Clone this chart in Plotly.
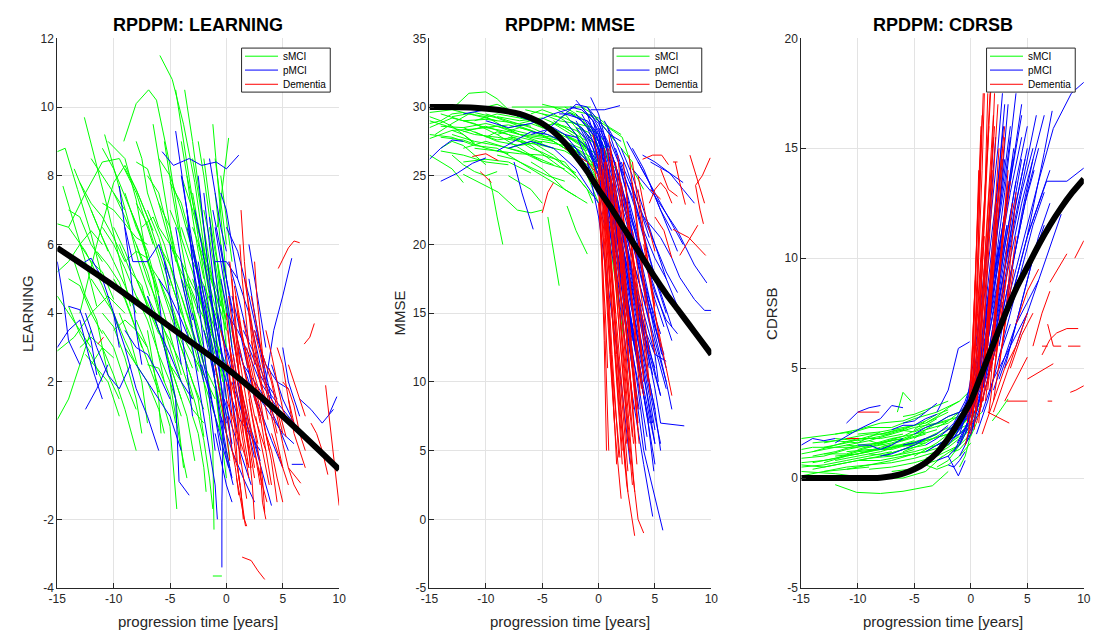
import plotly.graph_objects as go

# ---------------- data ----------------
# each trajectory: flat list x0,y0,x1,y1,...  (x = progression time [years])
TICKS_X = [-15, -10, -5, 0, 5, 10]
GROUPS = ["sMCI", "pMCI", "Dementia"]
PANEL_TITLES = ["RPDPM: LEARNING", "RPDPM: MMSE", "RPDPM: CDRSB"]
Y_LABELS = ["LEARNING", "MMSE", "CDRSB"]

LEARN_SMCI = [
    [-5.9,11.5,-4.8,10.8,-3.8,9.5,-2.8,7.8,-1.8,5.5],
    [-9.1,9.0,-8.0,10.1,-6.9,10.5,-6.2,10.2,-5.0,8.3,-4.0,6.2],
    [-12.6,9.7,-11.5,8.3,-10.5,7.0,-9.5,5.6,-8.5,4.2],
    [-15,8.7,-14.3,8.8,-13.2,7.6,-12.0,6.3,-11,5.0],
    [-4.5,10.5,-3.8,9.0,-3.0,7.2,-2.0,5.2,-1.0,3.0],
    [-3.7,10.5,-3.0,9.0,-2.2,7.0,-1.5,5.0],
    [-1.2,9.5,-0.8,8.0,-0.4,6.5,0,5.0],
    [-0.8,6.5,-0.3,7.8,0.2,9.1],
    [-10.8,9.2,-9.8,8.0,-8.8,6.8,-7.8,5.5,-6.8,4.5],
    [-10.5,9.0,-9.0,8.5,-8.0,7.3,-7.0,5.5,-6,4.5],
    [-14,6.5,-12.5,7.5,-11,8.4,-9.5,8.5,-8,7.5,-6.5,6.0],
    [-13,4.0,-11.5,6.0,-10,7.8,-9,8.3,-8,7.6,-6.5,6.4],
    [-15,6.6,-14,6.5,-12.5,5.8,-11,4.8,-9.5,3.5],
    [-14.5,7.7,-13.5,6.6,-12.5,5.5,-11.5,4.2],
    [-15,2.9,-13.5,3.3,-12,4.0,-10.5,4.5,-9,4.0],
    [-15,0.9,-14,1.5,-13,2.5,-12,3.5],
    [-13.5,5.5,-12.5,4.5,-11.5,3.8,-10.5,2.2,-9.5,1.5],
    [-12,2.5,-11,3.0,-10,2.2,-9,1.2,-8,0],
    [-8.5,7.0,-7.5,6.2,-6.5,5.0,-5.5,3.2,-4.5,1.5,-3.8,-0.5],
    [-9.5,6.0,-8.5,5.2,-7.5,4.8,-6.5,3.5,-5.5,2.0],
    [-7,8.0,-6,7.5,-5,6.2,-4,5.0,-3,3.6],
    [-6,6.5,-5,6.0,-4,5.5,-3,4.0,-2,2.8,-1.3,1.5],
    [-5,7.8,-4,7.2,-3,6.0,-2,4.5,-1,3.0,-0.3,2.0],
    [-3.5,8.0,-2.5,6.5,-1.5,5.2,-0.5,4.0],
    [-4,5.5,-3,4.8,-2,4.2,-1,2.5,0,1.0],
    [-2.5,4.8,-1.8,3.5,-1,2.5,-0.2,1.0,0.3,-0.2],
    [-1.5,3.0,-1,2.0,-0.5,0.5,0,-0.8],
    [-2,2.0,-1.5,1.0,-1.2,0,-1.1,-2.3],
    [-6.5,4.0,-5.5,3.0,-4.5,2.0,-3.5,1.0,-2.8,-0.3],
    [-8,3.8,-7,3.0,-6,1.8,-5,0.7,-4.4,-1.7],
    [-11,4.0,-10,3.6,-9,2.7,-8,1.5,-7.5,0.5],
    [-12.5,2.8,-11.5,2.4,-10.5,2.0,-9.5,1.0],
    [-14,4.2,-13,3.4,-12,2.8,-11,2.0],
    [-1.2,-3.65,-0.4,-3.65],
    [-9,5.5,-8,5.8,-7,5.6,-6,4.5,-5,3.4,-4,2.2],
    [-7.5,6.5,-6.5,6.8,-5.5,6.0,-4.5,4.8,-3.5,3.5,-2.5,2.3],
    [-3,7.5,-2.3,6.2,-1.5,4.8,-0.8,3.5,0,2.0],
    [-1,7.5,-0.5,6.0,0,4.5,0.5,3.0],
    [-5.5,9.0,-4.8,7.5,-4,6.0,-3,4.3,-2,2.5],
    [-10,5.0,-9,4.4,-8,3.5,-7,2.6,-6,1.7],
    [-4.5,3.5,-3.5,2.5,-2.5,1.5,-2.0,0.4],
    [-11.5,5.8,-10.5,5.4,-9.5,4.9,-8.5,4.0,-7.5,3.0],
    [-6,8.5,-5,8.0,-4,7.0,-3,5.8,-2,4.5,-1,3.5],
    [-2.5,6.0,-1.8,5.2,-1,4.2,-0.3,3.2],
    [-13.5,8.2,-12.5,7.4,-11.5,6.6,-10.5,5.8],
    [-8,8.4,-7,8.2,-6,7.2,-5,6.0],
    [-5,5.0,-4,4.0,-3,3.2,-2,2.0,-1,1.0],
    [-3.5,2.2,-2.7,1.3,-2,0.3,-1.5,-0.8,-1.2,-1.7],
    [-7,2.5,-6,2.4,-5,1.6,-4.5,0.8],
    [-0.8,5.5,-0.3,4.0,0,3.0],
    [-9.5,4.0,-8.5,3.2,-7.5,2.0,-7,0.8],
    [-2,8.5,-1.5,7.2,-1,6.0,-0.5,4.8,0,3.5],
    [-4,4.5,-3,3.5,-2,2.5,-1,1.8,-0.5,0.5],
    [-9,7.5,-8,6.5,-7,5.8,-6,4.6],
    [-8,6.0,-7,5.2,-6,4.0,-5,3.0,-4,2.0],
    [-7,7.0,-6,6.2,-5,5.0,-4,4.0],
    [-6,7.2,-5,6.5,-4,5.0,-3,4.2,-2,3.0],
    [-5,6.0,-4,5.2,-3,4.5,-2,3.5,-1,2.5],
    [-4,6.5,-3,5.5,-2,4.8,-1,4.0,0,3.0],
    [-3,5.0,-2,4.0,-1,3.2,0,2.5],
    [-2,5.5,-1.5,4.5,-1,3.5,-0.5,2.5,0,1.5],
    [-1.5,6.5,-1,5.5,-0.5,4.5,0,3.8],
    [-12,5.0,-11,4.5,-10,4.0,-9,3.2,-8,2.5],
    [-11,6.5,-10,6.0,-9,5.3,-8,4.5,-7,4.0],
    [-10,7.5,-9,6.8,-8,6.0,-7,5.0,-6,4.2],
    [-8,5.0,-7,4.3,-6,3.5,-5,2.5,-4,1.5],
    [-7,4.5,-6,3.8,-5,3.2,-4,2.5,-3,1.5],
    [-6,3.5,-5,2.5,-4,2.0,-3,1.2,-2,0.8],
    [-5,4.2,-4,3.4,-3,2.8,-2,2.2,-1,1.5],
    [-9,3.0,-8,2.5,-7,2.0,-6,1.2,-5.5,0.5],
    [-13,6.0,-12,5.5,-11,5.2,-10,4.4],
    [-14,5.0,-13,4.8,-12,4.0,-11,3.4],
    [-15,4.5,-14,4.0,-13,3.5,-12,3.0],
    [-15,5.2,-14,5.5,-13,6.0,-12,6.4,-11,6.0],
    [-3,8.5,-2.5,7.5,-2,6.5,-1.5,5.5,-1,4.5,-0.5,3.5],
    [-4,9.0,-3.5,8.0,-3,6.8,-2.5,5.8,-2,5.0],
    [-2.5,9.0,-2,8.0,-1.5,6.8,-1,5.8,-0.5,5.0,0,4.0],
    [-0.5,8.0,0,6.8,0.5,5.5],
    [-6.5,9.5,-6,8.5,-5.5,7.5,-5,6.5,-4.5,5.5],
    [-8,9.0,-7.5,8.5,-7,7.5,-6,6.5],
    [-11,7.2,-10,7.0,-9,6.6,-8,6.2,-7,6.0],
    [-12,8.5,-11,8.0,-10,7.5,-9,7.0],
    [-1,1.0,-0.5,0.5,0,0,0.3,-0.5],
    [-3,1.0,-2.5,0.5,-2,-0.5,-1.8,-1.2],
    [-5,2.0,-4.5,1.0,-4,0.0,-3.5,-0.8],
    [-7,3.5,-6.5,2.5,-6,1.5,-5.8,0.5],
    [-2,3.5,-1.5,3.0,-1,2.0,-0.5,1.2,0,0.5],
    [-13,3.0,-12,3.3,-11,3.0,-10,2.7],
    [-10,3.5,-9,3.8,-8,3.5,-7,3.0],
    [-12,7.0,-11,6.2,-10,5.5,-9,4.8,-8,4.0],
    [-11,8.8,-10,8.2,-9,7.4,-8,6.6,-7,5.6],
    [-10,6.5,-9,5.8,-8,5.0,-7,4.2,-6,3.4],
    [-9,8.2,-8,7.6,-7,6.8,-6,5.8,-5,4.8],
    [-8,7.2,-7,6.6,-6,5.6,-5,4.4,-4,3.4],
    [-7,5.5,-6,5.0,-5,4.2,-4,3.2,-3,2.4],
    [-6,6.0,-5,5.4,-4,4.5,-3,3.4,-2,2.2],
    [-5,7.0,-4,6.2,-3,5.2,-2,4.0,-1,2.8],
    [-4,8.0,-3,7.0,-2,5.8,-1,4.8,0,3.8],
    [-3,6.5,-2,5.6,-1,4.6,0,3.5],
    [-14,7.0,-13,6.8,-12,6.0,-11,5.5],
    [-13,7.8,-12,7.2,-11,6.8,-10,6.2,-9,5.5],
    [-11,3.5,-10,3.0,-9,2.0,-8,1.2],
    [-8,4.5,-7,3.8,-6,2.8,-5,2.0,-4,1.0],
    [-6,5.0,-5,4.0,-4,3.0,-3,2.0,-2,1.2],
    [-2,7.0,-1.5,6.2,-1,5.2,-0.5,4.2],
    [-1,8.5,-0.5,7.2,0,6.0],
    [-3.5,5.0,-2.5,4.2,-1.5,3.5,-0.5,2.8],
]
LEARN_PMCI = [
    [-5.7,8.7,-4.7,8.3,-3.3,8.5,-2.2,8.3,-0.9,8.4,0,8.2,1.1,8.6],
    [-4.5,9.3,-4,8.2,-3.5,7.0,-3,5.5,-2.5,4.0],
    [-9.5,7.7,-9,6.5,-8.5,5.2,-8,3.5,-7.5,2.5],
    [-9,6.5,-8.3,5.5,-7,5.5,-6,6.0,-5,5.0],
    [-15,5.5,-14.5,4.5,-14,3.2,-13,2.5],
    [-13,5.4,-12,5.6,-11,5.0,-10,4.0,-9.5,3.0],
    [-15,3.0,-14,3.5,-13,3.8,-12,2.5,-11,1.5],
    [-12.5,4.0,-11.5,3.0,-10.5,2.2,-9.5,1.8,-8.5,2.5],
    [-10,4.0,-9,3.0,-8,1.8,-7,1.0,-6,0.0],
    [-6,4.5,-5.5,3.0,-4.5,1.5,-4.2,-0.9,-3.3,-1.3],
    [-3.5,7.0,-3,5.5,-2.5,4.5,-2,3.0,-1.5,1.5,-1,0],
    [-2.5,8.0,-2,6.5,-1.5,5.0,-1,3.5,-0.5,2.0,0,0.5],
    [-2,7.5,-1.5,6.0,-1,4.5,-0.5,3.0,0,1.5,0.5,0],
    [-1.5,6.8,-1,5.2,-0.5,3.8,0,2.5,0.5,1.0],
    [-0.4,-3.4,-0.4,-1.5,-0.3,0.5,-0.2,2.0],
    [-1,5.5,0,5.5,1,5.0,2,4.0,3,2.5],
    [0,6.5,1,5.8,2,4.5,3,3.0,4,1.5],
    [3.5,2.0,4.2,3.5,5.0,4.5,5.8,5.6],
    [9.1,1.05,9.8,1.57],
    [5.8,-0.4,6.8,-0.4],
    [4,2.5,5,1.5,6,0.8,7,0.3],
    [1,3.0,2,2.0,3,1.2,4,0.3,5,-0.5],
    [0.5,2.0,1.5,1.0,2.5,0.2,3.5,-1.0,4,-1.6],
    [-0.5,1.0,0.5,0.0,1.5,-0.8,2.5,-1.5],
    [-3,3.0,-2.5,2.0,-2,1.0,-1.5,0.0,-1,-1.0,-0.8,-2.0],
    [-7,4.5,-6,3.5,-5,2.8,-4,2.0,-3,1.5],
    [-5,6.0,-4.5,4.8,-4,3.5,-3.5,2.3,-3,1.0],
    [1.5,2.5,2.5,2.0,3.5,1.5,4.5,0.8,5.5,0.0],
    [-1,3.0,0,2.0,1,1.0,2,0.5,3,0.0],
    [0,4.0,1,3.5,2,2.8,3,2.0,4,1.5,5,1.0],
    [-14,4.2,-13,4.1,-12,3.2,-11.5,2.2],
    [-12.5,1.2,-11.5,1.8,-10.5,2.5],
    [-4,8.0,-3.5,7.0,-3,6.0,-2.5,5.2,-2,4.0],
    [-0.5,5.0,0,4.2,0.5,3.0,1,2.0,1.5,1.0],
    [2,5.0,2.5,4.0,3,3.0,3.5,2.0,4,1.2],
    [-1.8,4.0,-1.2,2.5,-0.6,1.0,0,-0.2,0.6,-1.0],
    [6.5,1.5,7.5,1.2,8.5,0.8,9.5,1.2],
    [-8,2.5,-7,2.0,-6,1.5,-5,1.0,-4,0.0],
    [-3,6.0,-2.5,5.0,-2,4.0,-1.5,3.0,-1,2.2],
    [-2.5,5.5,-2,4.5,-1.5,3.5,-1,2.5,-0.5,1.5,0,0.8],
    [-2,4.8,-1.5,4.0,-1,3.0,-0.5,2.0,0,1.0,0.5,0.2],
    [-1.5,4.5,-1,3.8,-0.5,3.0,0,2.2,0.5,1.5,1,0.5],
    [-1,6.5,-0.5,5.5,0,4.5,0.5,3.5,1,2.5],
    [-0.5,6.0,0,5.0,0.5,4.0,1,3.2,1.5,2.5],
    [-3,4.0,-2.5,3.2,-2,2.5,-1.5,1.8,-1,1.0,-0.5,0.0],
    [-2,3.5,-1.5,2.8,-1,2.0,-0.5,1.0,0,0.0,0.5,-0.8],
    [-4,5.0,-3.5,4.2,-3,3.5,-2.5,2.8,-2,2.0],
    [-3.5,6.5,-3,5.8,-2.5,5.0,-2,4.2,-1.5,3.5],
    [0,3.0,0.5,2.5,1,2.0,1.5,1.2,2,0.5,2.5,-0.2],
    [0.5,4.5,1,3.8,1.5,3.0,2,2.2,2.5,1.5,3,1.0],
    [1,2.0,1.5,1.5,2,0.8,2.5,0.3,3,-0.3],
    [-1,0.5,-0.5,-0.3,0,-1.0,0.5,-1.5],
    [2,3.0,3,2.2,4,1.6,5,1.2,6,0.8],
    [3,1.5,4,1.0,5,0.5,6,0.2],
    [-6,5.0,-5,4.5,-4,3.8,-3,3.0],
    [-9,3.5,-8,3.0,-7,2.8,-6,2.2,-5,1.5],
    [-1.5,8.5,-1,7.5,-0.5,6.5,0,5.8],
    [-0.5,7.5,0,7.0,0.5,6.0,1,5.0],
    [2,6.0,2.5,5.0,3,4.0,3.5,3.0],
    [5,3.0,5.5,2.0,6,1.5,6.5,1.0],
    [-2.8,7.0,-2.2,6.0,-1.6,4.8,-1,3.8,-0.4,2.8],
    [-1.2,7.0,-0.6,6.0,0,5.0,0.6,4.0],
    [-0.8,4.0,-0.2,3.2,0.4,2.4,1,1.6,1.6,0.8],
    [0.2,5.5,0.8,4.8,1.4,4.0,2,3.2],
    [-2.2,2.5,-1.6,1.8,-1,1.0,-0.4,0.2,0.2,-0.5],
    [1.5,3.5,2.5,2.8,3.5,2.0,4.5,1.5],
    [-4.5,6.5,-4,5.5,-3.5,4.5,-3,3.8],
    [-5.5,5.5,-5,4.5,-4.5,3.5,-4,2.5],
    [2.5,3.5,3.5,2.5,4.5,2.0,5.5,1.8],
    [-0.2,1.5,0.4,0.8,1,0.2,1.6,-0.4,2.2,-1.0],
]
LEARN_DEM = [
    [1.3,7.0,1.6,5.5,2.0,4.0,2.5,2.5],
    [4.6,5.3,5.5,5.9,6.0,6.1,6.5,6.05],
    [0.5,5.0,0.8,3.5,1.2,2.0,1.5,0.5],
    [0,4.0,0.3,3.0,0.6,2.0,1.0,1.0,1.3,0],
    [0.5,3.5,1,2.5,1.5,1.5,2,0.5,2.5,-0.5],
    [1,3.0,1.5,2.0,2,1.0,2.5,0,3,-1.0],
    [1.5,2.5,2,1.8,2.5,1.0,3,0.5,3.5,0],
    [2,4.0,2.5,3.0,3,2.0,3.5,1.5],
    [0.2,2.5,0.5,1.5,0.8,0.5,1,-0.5,1.2,-1.0],
    [1.4,-3.1,2.2,-3.2,2.8,-3.5,3.4,-3.75],
    [1.5,1.0,2,0,2.3,-1.0,2.5,-2.0],
    [0.5,0.0,1,-0.5,1.3,-1.2,1.5,-2.0],
    [2.5,2.0,3,1.5,3.5,0.5,4,-0.3,4.5,-1.5],
    [3,3.0,3.5,2.5,4,2.0,4.5,1.2,5,0.5],
    [4,1.5,4.5,1.0,5,0.2,5.5,-0.5,6.6,-0.95],
    [6.9,3.1,7.4,3.3,7.8,3.7],
    [8.8,1.9,9.3,0.5,9.6,-0.5,10,-1.6],
    [7.5,0.8,8,0.5,8.5,0.0,9,-0.7],
    [5.5,2.5,6,2.0,6.5,1.5,7,1.0],
    [2.8,-0.5,3.2,-1.0,3.6,-1.5],
    [5.5,-0.5,6,-1.0,6.5,-1.3],
    [0,1.5,0.5,1.0,1,0.5,1.5,0.0,2,-0.5],
    [0.8,4.5,1.2,3.5,1.8,2.8,2.3,2.0,3,1.0],
    [1.2,6.0,1.4,5.0,1.7,4.0,2,3.0],
    [3.5,3.5,4,2.8,4.5,2.0,5,1.2,5.5,0.8],
    [2,2.5,2.5,1.5,3,1.0,3.5,0.0,4,-1.0],
    [0.3,3.0,0.6,2.5,1,1.5,1.5,0.5,2,-0.5],
    [-1,2.5,-0.5,1.5,0,0.5,0.3,-0.3],
    [-11.4,3.1,-10.9,3.3],
    [4,0.5,4.5,0,5,-0.5,5.5,-1.0],
    [2.5,5.5,2.7,4.5,3,3.5,3.3,2.5],
    [1,-0.5,1.3,-1.2,1.6,-2.0,1.8,-2.2],
    [3,-0.5,3.2,-1.5,3.5,-2.0],
    [5,2.0,5.5,1.8,6,1.3,6.5,0.5,7,0],
    [0.1,3.5,0.4,2.8,0.7,1.8,1.0,0.8,1.2,-0.4],
    [2.2,3.2,2.7,2.4,3.2,1.6,3.7,0.9],
    [0.6,1.2,1.0,0.3,1.4,-0.6,1.8,-1.4],
    [3.8,2.4,4.3,1.7,4.8,1.0,5.3,0.4],
    [0.2,4.5,0.6,3.5,1.0,2.5,1.4,1.5,1.8,0.5],
    [0.4,3.8,0.8,3.0,1.2,2.0,1.6,1.0,2.0,0.0],
    [0.6,2.8,1.0,2.0,1.4,1.2,1.8,0.3,2.2,-0.5],
    [0.8,3.5,1.3,2.8,1.8,2.0,2.3,1.0,2.8,0.2],
    [1.0,4.0,1.5,3.2,2.0,2.5,2.5,1.6,3.0,0.8],
    [1.2,2.0,1.7,1.2,2.2,0.5,2.7,-0.3,3.2,-1.0],
    [1.8,3.0,2.3,2.2,2.8,1.5,3.3,0.8,3.8,0.0],
    [2.5,3.5,3.0,2.8,3.5,2.0,4.0,1.2,4.5,0.5],
    [0.1,1.0,0.4,0.2,0.8,-0.5,1.1,-1.3],
    [3.0,2.5,3.5,1.8,4.0,1.0,4.5,0.2,5.0,-0.5],
    [0.3,5.5,0.6,4.5,0.9,3.5,1.2,2.5],
    [2.0,1.5,2.4,0.8,2.8,0.0,3.2,-0.8,3.4,-1.8],
    [1.6,5.0,2.0,4.2,2.4,3.4,2.8,2.6,3.2,1.8],
    [4.5,3.0,5.0,2.5,5.5,1.5,6.0,0.8],
    [-0.5,3.5,0,2.8,0.3,2.0,0.6,1.2],
    [0.9,-0.8,1.3,-1.5,1.7,-2.2],
    [3.5,0.5,4,0,4.5,-0.8,5,-1.5],
    [5.5,1.5,6,0.5,6.5,0,7,-0.5],
    [0.4,2.0,0.8,1.5,1.2,0.8,1.6,0,2.0,-0.8],
    [0.7,4.8,1.1,4.0,1.5,3.2,1.9,2.4],
    [1.3,1.5,1.7,0.8,2.1,0.0,2.5,-0.8],
    [2.2,4.5,2.6,3.8,3.0,3.2,3.4,2.4],
    [2.6,1.0,3.0,0.3,3.4,-0.4,3.8,-1.0],
    [0.0,2.0,0.3,1.3,0.6,0.5,0.9,-0.3],
    [1.5,3.8,2.0,3.0,2.5,2.2,3.0,1.6],
]
LEARN_FIT_T = [-15, -10, -5, 0, 5, 10]
LEARN_FIT_Y = [5.9, 4.8, 3.6, 2.4, 1.0, -0.55]

MMSE_SMCI = [
    [-12.8,30.0,-11.5,31.0,-10,31.1,-9,30.6,-8,29.8,-7,29.2],
    [-7.7,30.0,-5,30.0,-2.5,30.0,-0.7,30.0],
    [-15,29.3,-14,29.0,-13,28.6,-12,28.0,-11,27.4],
    [-15,27.7,-14,28.0,-13,28.3,-12,28.0,-11,27.3],
    [-14,27.0,-13,27.5,-12,27.2,-11,26.5,-10,25.8],
    [-13,26.5,-12,25.8,-11,25.3,-10,25.0,-9,25.3],
    [-9.7,24.8,-9.4,23.8,-9.0,22.0,-8.5,20.0],
    [-12,25.1,-10.5,24.5,-8.9,23.8,-7.2,22.5,-6,22.3,-5,22.5],
    [-4.5,22.0,-4,19.5,-3.5,17.0],
    [-2.8,22.8,-2,21.0,-1.0,19.3],
    [-15,28.5,-13,29.2,-11,28.8,-9,28.0,-7,27.0,-5,26.0],
    [-14,29.5,-12,29.0,-10,28.5,-8,28.7,-6,28.3,-4,27.5],
    [-10,29.5,-8,29.0,-6,28.5,-4,27.8,-2,27.0,0,26.0],
    [-9,28.0,-7,28.5,-5,28.0,-3,27.0,-1,25.5],
    [-8,27.0,-6,27.5,-4,26.5,-2,25.0,-0.5,23.5],
    [-7,26.0,-5,25.0,-3,24.0,-1,23.0],
    [-6,29.5,-5,29.8,-4,29.5,-3,29.0,-2,28.0,-1,26.5,0,25.0],
    [-5,30.2,-4,30.0,-3,29.5,-2,28.5,-1,27.0,0,25.0,0.5,24.0],
    [-4,29.0,-3,28.5,-2,28.0,-1,27.0,0,26.0],
    [-3,30.0,-2,29.5,-1,28.5,0,27.5,1,26.0],
    [-2,29.7,-1,29.5,0,29.0,1,28.0,2,27.0,3,26.0],
    [0,29.0,1,28.4,2.1,27.8,3,25.5,4,24.0],
    [-13,28.0,-11,27.5,-9,27.2,-7,26.8,-5,26.0,-3,25.5],
    [-12,27.0,-10,27.5,-8,27.0,-6,26.5,-4,25.8],
    [-11,29.0,-9,29.5,-7,29.2,-5,28.8,-3,28.0,-1,27.2],
    [-15,26.5,-14,26.0,-13,25.5,-12,24.5],
    [-8,25.0,-7,24.5,-6,24.0,-5,23.0],
    [-6,26.0,-5,25.5,-4,24.8,-3,24.0,-2,23.5],
    [-2,27.0,-1.5,26.0,-1,25.0,0,23.0],
    [0.3,24.0,0.6,22.9,1.2,19.0,1.8,15.5,2.2,13.3],
    [-10,27.8,-9,28.2,-8,28.0,-7,27.5,-6,27.0],
    [-7,28.8,-6,29.0,-5,28.5,-4,28.8,-3,28.3,-2,27.8],
    [-4,27.5,-3,27.0,-2,26.5,-1,26.0,0,25.5],
    [-1,28.5,0,28.0,0.5,27.0,1,26.0],
    [-3,26.0,-2,25.0,-1,24.0,-0.5,23.0],
    [-14.5,28.0,-13,28.8,-11.5,29.5,-10,29.3,-8.5,28.6],
    [-9,26.5,-7.5,26.2,-6,25.6,-4.5,25.0,-3,24.6],
    [-5,29.0,-4,28.2,-3,27.6,-2,26.8,-1,26.2,0,24.5],
    [-3.5,29.2,-2.5,29.6,-1.5,29.2,-0.5,28.0,0.3,26.5],
    [-12,28.5,-10.5,28.0,-9,27.6,-7.5,27.8,-6,27.3],
    [-15,29.0,-13,28.5,-11,28.0,-9,27.8,-7,27.5],
    [-15,28.0,-13,27.8,-11,27.2,-9,27.0,-7,26.0],
    [-14,28.6,-12,28.5,-10,28.8,-8,28.4,-6,28.0],
    [-13,29.3,-11,29.6,-9,29.2,-7,28.6,-5,28.0],
    [-12,28.2,-10,28.6,-8,28.0,-6,27.6,-4,27.0],
    [-11,27.0,-9,26.8,-7,26.6,-5,26.5,-3,26.0],
    [-10,28.5,-8,28.2,-6,27.8,-4,27.5,-2,26.5],
    [-9,29.3,-7,29.0,-5,29.2,-3,28.5,-1,27.5],
    [-8,28.5,-6,28.8,-4,28.2,-2,27.5,0,26.5],
    [-7,27.5,-5,27.2,-3,26.8,-1,25.8,0,24.5],
    [-6,28.0,-4,27.8,-2,27.0,-1,26.3,0,25.5],
    [-5,29.5,-3,29.2,-2,28.8,-1,28.0,0,27.0],
    [-4,30.0,-3,29.8,-2,29.3,-1,28.7,0,28.0,1,27.0],
    [-2.5,29.0,-1.5,28.5,-0.5,27.5,0.5,26.5,1.5,25.5],
    [-1.5,30.0,-0.5,29.5,0.5,28.5,1.5,27.5],
    [-14,26.8,-12,26.5,-10,26.0,-8,25.8],
    [-12,26.0,-10,26.2,-8,26.0,-6,25.2],
    [-8,27.8,-6,27.2,-4,26.0,-2,24.8],
    [-3,28.0,-2,27.5,-1,27.0,0,26.0,1,25.0],
    [-6.5,29.8,-5,29.5,-3.5,29.0,-2,28.8,-0.5,28.5],
    [-10,30.0,-9,30.2,-8,29.8,-7,29.4],
    [-15,28.8,-14,29.0,-13,29.5,-12,29.6],
    [-15,29.6,-13,29.8,-11,29.4,-9,29.0],
    [-14,27.8,-12,27.6,-10,27.0,-8,26.6],
    [-13,28.3,-11,28.4,-9,28.6,-7,28.0,-5,27.4],
    [-11,28.2,-9,27.5,-7,27.2,-5,27.5,-3,27.2],
    [-9,28.8,-7,28.0,-5,27.8,-3,27.5,-1,26.8],
    [-7,29.3,-5,28.7,-3,28.0,-2,27.4,-1,26.9],
    [-5,28.5,-4,28.8,-3,28.6,-2,28.3,-1,27.7,0,27.2],
    [-3.5,27.5,-2.5,27.0,-1.5,26.5,-0.5,25.6],
    [-2,28.5,-1,28.2,0,27.5,1,26.8],
    [-12,29.0,-10,29.1,-8,28.9,-6,28.6],
    [-6,27.0,-5,26.7,-4,26.3,-3,25.7,-2,25.2],
    [-1,29.5,0,29.2,1,28.5,2,28.0],
]
MMSE_PMCI = [
    [-3,29.5,-1,29.0,0,28.0,1,23.0,2,17.0,3,11.0,4,5.0,5.7,-0.8],
    [-2,30.5,-1,29.5,0,27.0,1,21.0,2,15.0,3,9.0,4,4.0,4.8,0.2],
    [-1,30.0,0,28.5,1,24.0,2,19.0,3,14.0,4,9.5,5,5.5],
    [-0.5,29.0,0.5,26.0,1.5,21.0,2.5,16.0,3.5,11.0,4.5,7.0],
    [0,29.0,1,26.0,2,22.0,3,18.0,4,13.5,5,9.5,5.5,7.0,7.6,6.8],
    [-1.5,30.0,-0.5,29.0,0.5,27.0,1.5,24.0,2.5,20.0,3.5,16.0,4.5,12.5],
    [0.5,28.0,1.5,25.0,2.5,22.0,3.5,19.0,4.5,16.0,5.5,13.5],
    [1,27.5,2,25.5,3,23.5,4,21.0,5,19.0,6,17.5],
    [2,26.0,3,24.0,4,22.0,5,20.0,6,18.0,7,16.5],
    [4,22.0,5.5,20.5,6.5,19.0,7.2,17.6,8.5,16.0,9.4,15.2,10,15.2],
    [3,25.5,5,23.5,7,21.0,8.5,18.5,9.6,17.2],
    [3.9,26.5,5,26.0,6.3,25.2,7.5,24.5],
    [-5,28.0,-3,29.5,-2,30.2,-1,30.0,0,29.0,1,28.0,2,27.5],
    [-0.7,29.8,0.5,29.8,1.9,30.1],
    [-15,26.2,-14,27.0,-13,27.6,-12,27.5],
    [-14,24.6,-12.5,25.2,-11.2,25.9,-10,26.3],
    [-7.5,26.0,-6.8,23.75,-5.8,21.1],
    [-8,27.0,-6,27.5,-4,27.0,-2,25.5,0,23.0,1,20.0],
    [-4,28.0,-3,27.5,-2,27.0,-1,26.0,0,24.0,1,21.0,2,17.0,3,13.0],
    [-2,28.5,-1,27.5,0,25.5,1,22.0,2,18.0,3,14.0,3.8,10.5],
    [-1,27.0,0,25.0,1,22.5,2,19.5,3,16.5,4,13.5,5,11.0],
    [0,26.0,1,24.0,2,21.0,3,18.0,4,15.0,5,12.0,5.3,10.0],
    [1,25.0,2,22.0,3,19.0,4,16.0,5,13.0,6,10.0,6.5,8.0],
    [0.5,22.0,1.5,18.0,2.5,14.0,3.5,10.0,4.3,6.0],
    [4.6,26.0,6.3,25.2,7.5,24.0,8.5,23.0],
    [-10,29.0,-8,28.5,-6,28.8,-4,29.5,-2,30.0],
    [-12,29.5,-10,29.8,-8,29.6,-6,29.0,-4,28.5],
    [-3,29.0,-2,28.0,-1,26.0,0,22.0,1,16.0,2,10.0,2.8,4.0],
    [-2,29.5,-1,28.5,0,26.5,1,22.5,2,18.0,3,13.5,4,9.0,5,4.0],
    [1.5,27.0,2.5,24.5,3.5,22.0,4.5,19.0,5.5,16.5,6.5,14.0],
    [2.5,27.5,3.5,26.0,4.5,24.5,5.5,22.5,6.5,21.0],
    [0,28.5,1,27.0,2,24.5,3,21.0,4,17.5,5,13.5,6,10.0],
    [-0.7,30.7,0,29.5,0.5,28.0,1,26.0],
    [-6,28.0,-4,28.5,-3,28.0,-2,27.0,-1,25.5,0,23.5],
    [-1,28.0,0,26.0,1,23.0,2,20.0,3,17.0,4,14.0,5,12.0,6,11.5],
    [0.5,25.0,1.5,21.0,2.5,17.0,3.5,13.0,4.5,9.0,5,6.5],
    [-1.5,28.5,-0.5,27.0,0.5,24.0,1.5,20.0,2.5,15.0,3.5,9.5,4.2,5.0],
    [2,24.0,3,21.5,4,19.0,5,16.5,6,14.5,7,13.5],
    [-0.5,27.5,0.3,25.0,1,22.0,1.8,18.5,2.5,15.5,3.3,12.0],
    [1.2,26.5,2,24.0,3,20.5,4,17.0,5,14.0,5.8,12.0],
    [-9,26.8,-7.5,27.5,-6,28.2,-4.5,28.0,-3,27.4],
    [-2.5,29.0,-1.5,28.5,-0.5,27.5,0.5,25.0,1.5,21.5,2.5,17.5,3.5,13.0],
    [-1.5,29.5,-0.5,28.0,0.5,25.5,1.5,22.0,2.5,18.5,3.5,15.0,4.5,11.0],
    [-1,29.0,0,27.5,1,24.5,2,20.5,3,16.5,4,12.0,5,8.0],
    [0,27.0,1,23.5,2,19.5,3,15.5,4,11.5,5,7.5,5.5,5.5],
    [0.5,26.5,1.5,23.0,2.5,19.5,3.5,16.0,4.5,12.5,5.5,9.0],
    [1,26.0,2,23.0,3,20.0,4,17.0,5,14.0,6,11.0],
    [1.5,25.5,2.5,23.0,3.5,20.5,4.5,18.0,5.5,15.5,6.5,13.0],
    [-0.5,28.5,0.5,26.5,1.5,23.5,2.5,19.5,3.5,15.5,4.5,12.0,5.5,9.0],
    [-2,29.0,-1,27.5,0,25.0,1,21.5,2,17.5,3,14.0,4,10.5,4.8,7.0],
    [0,28.0,0.8,25.5,1.6,22.5,2.4,19.5,3.2,16.5,4,13.5,4.8,10.5],
    [2,27.0,3,25.0,4,22.5,5,20.0,6,17.5,7,15.5],
    [3,27.0,4,25.5,5,23.5,6,21.5,7,19.5],
    [-3.5,29.5,-2.5,29.5,-1.5,29.0,-0.5,28.0,0.5,26.0],
    [1,24.0,2,20.0,3,16.0,4,12.0,5,8.0,5.5,5.0],
    [2,22.0,3,19.0,4,16.0,5,12.5,6,9.5],
    [0.5,29.0,1.5,27.5,2.5,25.5,3.5,23.0,4.5,20.5],
    [-2.5,30.0,-1.5,29.8,-0.5,29.0,0.5,27.5,1.5,25.0,2.5,22.0,3.5,18.5,4.5,15.0],
    [0.3,27.5,1.1,24.5,1.9,21.0,2.7,17.0,3.5,13.0,4.3,9.0,5,5.5],
    [0.8,28.5,1.6,26.5,2.4,24.0,3.2,21.0,4,18.0,4.8,15.0,5.6,12.0],
    [-1.2,27.5,-0.4,26.0,0.4,23.5,1.2,20.0,2,16.0,2.8,12.0,3.6,8.0],
    [1.8,26.0,2.6,23.5,3.4,21.0,4.2,18.5,5,16.0,5.8,14.0],
    [2.8,24.5,3.6,22.0,4.4,19.5,5.2,17.0,6,15.0],
    [-3,28.0,-2,27.8,-1,27.0,0,25.5,1,23.0,2,19.5],
    [3.5,26.0,4.5,24.5,5.5,23.0,6.5,21.5,7.5,20.0],
    [1.2,23.0,2,19.0,2.8,15.0,3.6,11.0,4.4,7.0,4.9,3.5],
    [-0.8,29.5,0,28.8,0.8,27.5,1.6,25.5,2.4,23.0,3.2,20.0],
]
MMSE_DEM = [
    [0,26.0,0.2,21.0,0.5,13.0,0.7,5.0],
    [0,25.0,0.5,19.0,1.0,12.0,1.5,6.0,2.0,1.5],
    [0.5,26.0,1.0,20.0,1.5,14.0,2.0,8.0,2.6,2.0],
    [0.5,24.0,1.0,18.0,1.5,12.0,2.0,7.0,2.5,2.5,3.2,-1.2],
    [1,24.5,1.5,19.0,2,13.5,2.5,8.0,3,3.5,3.5,0.0,4,-1.0],
    [0.5,27.0,1,23.0,1.5,18.5,2,14.0,2.5,10.0,3,6.0],
    [1,27.0,1.5,23.0,2,19.0,2.5,15.0,3,11.0,3.5,7.0],
    [1.5,26.0,2,22.5,2.5,19.0,3,15.5,3.5,12.0,4,9.0],
    [2,24.5,3,19.5,4,14.0,4.6,9.0],
    [3,26.0,3.5,23.0,4,20.5,4.5,18.0,5,15.5],
    [0,23.0,0.3,19.0,0.6,15.0,0.8,11.0],
    [-0.5,28.0,0,26.0,0.5,23.0,1,19.0,1.5,15.0],
    [1,22.0,1.5,17.0,2,12.0,2.5,7.0,3,2.5],
    [2,20.0,2.5,16.0,3,12.0,3.5,8.0],
    [4,20.0,5,15.0,6,11.0,6.5,9.0],
    [3.9,26.2,4.8,26.5,5.6,26.5,6.2,25.8],
    [6.8,26.0,7.2,24.5,7.7,22.9],
    [8.1,26.5,8.7,24.8,9.4,23.0],
    [9.9,26.3,9.2,25.0,8.6,24.3,9.0,22.5,9.3,21.5],
    [6.6,21.1,8.0,20.5,9.5,19.2],
    [8.8,21.4,7.2,19.2],
    [4.6,24.0,5.5,23.3],
    [4.5,23.0,5,24.0,5.5,24.5,6,24.0,6.5,23.0],
    [6.6,26.0,7.0,26.0],
    [5,22.0,5.8,21.0,6.5,19.0],
    [-11.2,26.4,-10,26.6,-8.9,26.1],
    [-10.5,25.3,-9.5,24.5],
    [-5.0,22.3,-4.5,23.8,-4,24.5],
    [-3,27.0,-2,26.5,-1,26.0,0,25.0],
    [-0.5,26.0,0,24.0,0.3,20.0,0.5,15.0,0.7,10.0,0.9,5.0],
    [1.5,23.0,2,18.0,2.5,13.0,3,8.0,3.4,4.0],
    [2.5,23.0,3,19.5,3.5,16.0,4,12.5,4.4,10.0],
    [0.8,25.0,1.3,20.5,1.8,16.0,2.3,11.0,2.8,6.0,3.2,2.0],
    [1.2,26.0,1.6,22.0,2.1,17.0,2.6,12.0,3.1,8.0],
    [3,21.0,3.5,18.0,4,15.0,4.5,12.0],
    [0.2,27.0,0.6,22.0,1.0,17.0,1.4,12.0,1.8,7.0,2.1,4.0],
    [0.3,22.0,0.7,17.0,1.1,12.0,1.5,8.0,1.9,4.5],
    [1.8,25.0,2.3,21.0,2.8,17.0,3.3,13.0,3.8,9.5],
    [2.7,26.5,3.2,22.5,3.7,19.0,4.2,15.5],
    [0.9,28.0,1.4,25.0,1.9,21.0,2.4,17.0,2.9,13.0],
    [5.5,25.5,6.2,24.0,7,23.5],
    [3.5,25.0,4.2,22.0,5,19.5],
    [0.1,26.5,0.4,23.0,0.7,19.0,1.0,14.0,1.3,9.0,1.6,4.0],
    [0.4,25.5,0.8,21.5,1.2,17.0,1.6,12.0,2.0,7.5,2.4,3.5],
    [0.7,26.0,1.1,22.0,1.5,17.5,1.9,13.0,2.3,9.0,2.7,5.0],
    [1.1,25.0,1.5,21.0,1.9,17.0,2.3,13.0,2.7,9.0,3.1,5.5],
    [1.4,24.0,1.8,20.0,2.2,16.0,2.6,12.0,3.0,8.5],
    [1.7,26.5,2.1,23.0,2.5,19.5,2.9,16.0,3.3,12.5,3.7,9.0],
    [2.2,26.0,2.6,22.5,3.0,19.0,3.4,15.5,3.8,12.0],
    [0.2,24.0,0.5,20.5,0.8,16.0,1.1,11.0,1.4,7.0],
    [0.6,23.0,1.0,19.0,1.4,15.0,1.8,11.0,2.2,7.0,2.6,3.5],
    [0.9,21.0,1.3,17.0,1.7,13.0,2.1,9.0,2.5,5.5],
    [2.5,22.0,3.0,18.0,3.5,14.0,4.0,10.0],
    [3.5,24.0,4.0,21.0,4.5,18.0,5.0,15.0,5.5,12.5],
    [1.9,22.5,2.3,18.5,2.7,14.5,3.1,10.5,3.5,6.5],
    [0.3,25.0,0.6,21.0,0.9,16.5,1.2,12.0,1.5,8.0,1.8,4.5],
    [0.8,27.0,1.2,23.5,1.6,19.5,2.0,15.5,2.4,11.5,2.8,7.5],
    [1.3,24.5,1.7,21.0,2.1,17.5,2.5,13.5,2.9,9.5,3.3,5.5],
    [1.6,23.0,2.0,19.5,2.4,16.0,2.8,12.5,3.2,9.0,3.6,5.5],
    [2.4,24.5,2.8,21.0,3.2,17.5,3.6,14.0,4.0,10.5],
    [0.5,22.5,0.9,18.0,1.3,13.5,1.7,9.0,2.1,5.0],
    [3.0,24.5,3.5,21.0,4.0,17.5,4.5,14.5,5.0,12.0],
]
MMSE_FIT_T = [-15, -13, -11, -9, -7, -6, -5, -4, -3, -2, -1, 0,
              1, 2, 3, 4, 5, 6, 7, 8, 9, 10]
MMSE_FIT_Y = [30.0, 30.0, 29.95, 29.8, 29.5, 29.2, 28.8, 28.2, 27.4, 26.4, 25.3, 24.0,
              22.8, 21.5, 20.2, 18.9, 17.6, 16.4, 15.3, 14.2, 13.1, 12.0]

CDR_SMCI = [
    [-15,0.5,-13,0.6,-11,0.8,-9,1.0,-7,1.2],
    [-15,0.9,-13,1.0,-11,1.3,-9,1.5,-7,1.8,-5,2.0],
    [-14,1.2,-12,1.5,-10,1.8,-8,1.8,-6,2.0],
    [-13,0.7,-11,1.0,-9,1.2,-7,1.5,-5,1.5,-3,2.0],
    [-12,-0.3,-10.1,-0.65,-8,-0.7,-6,-0.6,-3.4,-0.35,-2,0.3],
    [-15,0.3,-12,0.2,-9,0.0,-6,0.0,-4,0.3,-2.5,1.0],
    [-12,2.0,-10,2.2,-8,2.5,-6,2.6,-4,3.0],
    [-11,2.0,-9,2.3,-7,2.3,-5,2.7,-3,3.0,-1,3.5],
    [-8,1.0,-6,1.3,-4,1.7,-2,2.0,0,2.5],
    [-6,1.0,-4,1.2,-2,1.8,0,2.8,1,3.3],
    [-5,0.5,-3,0.8,-1,1.5,0,2.5],
    [-4,2.5,-3,2.8,-2,3.2,-1,3.5,0,4.0],
    [-6.5,3.0,-6.0,3.9,-5.3,3.5],
    [-3,1.5,-2,1.8,-1,2.2,0,3.0],
    [-2,1.0,-1,1.6,0,2.5,1,3.0],
    [1.9,2.6,2.5,3.0,3.3,3.6],
    [-7,2.0,-5,2.3,-3,2.5,-1,2.8],
    [-13,1.6,-11,1.8,-9,2.0,-7,2.0],
    [-15,1.3,-14,1.4,-12,1.4,-10,1.4],
    [-10,0.8,-8,0.8,-6,1.0,-4,1.2,-2,1.5],
    [-3,0.5,-2,0.8,-1,1.5,0,2.0],
    [-1,0.5,-0.5,1.0,0,2.0,0.5,3.0],
    [-12,1.0,-10,1.1,-8,1.4,-6,1.7,-4,2.0],
    [-5,1.8,-4,2.2,-3,2.5,-2,2.8,-1,3.0],
    [-9,1.7,-7,1.4,-5,1.5],
    [-14,0.7,-12,0.9,-10,1.2,-8,1.3,-6,1.5,-4,1.6],
    [-11,0.4,-9,0.6,-7,0.7,-5,0.9,-3,1.2,-1,1.9],
    [-8,2.0,-6.5,2.2,-5,2.1,-3.5,2.4,-2,2.6],
    [-15,1.8,-13.5,1.9,-12,2.0,-10.5,2.1],
    [-4,0.6,-3,0.4,-2,0.6,-1,1.0,0,1.6],
    [-7,0.3,-5.5,0.4,-4,0.8,-2.5,1.3,-1,2.3],
    [-15,0.7,-13,0.8,-11,1.0,-9,1.2,-7,1.4,-5,1.7],
    [-15,1.1,-13,1.3,-11,1.5,-9,1.7,-7,2.0],
    [-14,0.4,-12,0.6,-10,0.8,-8,1.0,-6,1.3,-4,1.5],
    [-13,1.4,-11,1.6,-9,1.9,-7,2.1,-5,2.4],
    [-12,0.8,-10,1.0,-8,1.2,-6,1.5,-4,1.8,-2,2.3],
    [-11,1.5,-9,1.4,-7,1.6,-5,1.9,-3,2.2],
    [-10,2.0,-8,2.1,-6,2.3,-4,2.5,-2,3.0],
    [-9,1.1,-7,1.0,-5,1.2,-3,1.5,-1,2.0,0,2.3],
    [-8,1.6,-6,1.8,-4,2.2,-2,2.5,0,3.2],
    [-6,2.8,-5,2.9,-4,3.1,-3,3.3,-2,3.5],
    [-5,1.0,-4,1.3,-3,1.6,-2,2.0,-1,2.5,0,3.0],
    [-4,0.9,-3,1.1,-2,1.4,-1,1.8,0,2.2,0.5,2.7],
    [-3,2.3,-2,2.6,-1,3.0,0,3.5],
    [-2,2.2,-1,2.4,0,2.8,1,3.5],
    [-1.5,1.2,-1,1.3,-0.5,1.6,0,1.9,0.5,2.5],
    [-7,1.8,-6,1.7,-5,2.0,-4,2.1],
    [-13,0.3,-11,0.5,-9,0.6,-7,0.8,-5,1.1],
    [-15,0.1,-13,0.3,-11,0.4,-9,0.5],
    [-10,1.3,-8,1.6,-6,1.9,-4,2.4,-3,2.7],
    [-14,1.6,-12,1.7,-10,1.6,-8,2.1],
    [-15,0.6,-13,0.5,-11,0.7,-9,0.9,-7,1.0,-5,1.3],
    [-14,1.0,-12,1.2,-10,1.5,-8,1.6,-6,1.8],
    [-12,1.8,-10,1.7,-8,1.9,-6,2.2,-4,2.6],
    [-9,0.4,-7,0.5,-5,0.7,-3,1.0,-1,1.5],
    [-8,1.3,-6,1.5,-4,1.7,-2,2.0,-1,2.4],
    [-6,1.2,-5,1.4,-4,1.6,-3,1.9,-2,2.2,-1,2.6],
    [-3,1.2,-2,1.5,-1,2.0,0,2.6,0.5,3.0],
    [-11,1.2,-9,1.3,-7,1.3,-5,1.6],
    [-13,1.1,-11,1.1,-9,1.4,-7,1.7],
    [-5,2.2,-4,2.6,-3,2.9,-2,3.1],
]
CDR_PMCI = [
    [-15,1.5,-14,1.8,-13,1.7,-12,1.8],
    [-12,1.6,-10,2.2,-8,2.7,-7,3.3,-6,3.2],
    [-1,1.5,0,3.0,1,6.0,2,10.0,3,14.5],
    [-0.5,2.0,0.5,4.0,1.5,8.0,2.5,12.0,3.5,16.0],
    [0,2.5,1,5.0,2,9.0,3,13.0,4,17.5],
    [0,3.0,1,6.5,2,11.0,2.5,14.0,3,17.0],
    [1,4.0,2,7.0,3,10.5,4,13.5,5,16.0],
    [1.5,4.5,2.5,7.5,3.5,10.5,4.5,13.0,5.5,15.0],
    [4,9.5,5,11.5,6,13.5,7.3,15.9,8.9,17.5,10,18.0],
    [3.5,8.0,5,11.0,6.7,13.5,8.5,13.5,10,14.1],
    [2.5,6.0,3.5,9.0,4.5,12.0,5.5,14.5,6.5,16.5],
    [0.5,3.5,1.5,6.5,2.5,10.0,3.5,13.5,4.5,17.0],
    [-1,2.0,0,3.5,1,6.0,2,9.0,3,12.0,3.8,15.0],
    [3,5.0,4,7.0,5,9.0,6,11.0,7,12.5],
    [4,6.0,5,7.5,6,9.0,7,10.5,8,12.0],
    [2,4.0,3,5.5,4,7.0,5,8.0,6,9.0],
    [1,3.0,2,4.5,3,5.5,4,6.5,5,7.5],
    [-2,1.0,-1,1.5,0,2.5,1,4.0,2,6.0],
    [-3,0.8,-2,1.0,-1.1,0.1,-0.5,0.8],
    [-5,2.0,-4,2.3,-3,2.5,-2,2.8,-1,3.0,0,3.5],
    [-8,1.0,-7,1.1,-6,1.3,-5,1.5,-4,1.8],
    [-3,3.0,-2,4.0,-1.1,5.9,-0.1,6.2],
    [0.5,2.0,1.5,3.5,2.5,5.5,3.5,7.0],
    [-2,2.0,-1,2.5,0,3.0,1,4.5,2,6.5,3,9.0],
    [-10,1.5,-9,1.5,-8,1.3,-7,1.5,-6,1.8],
    [-11,2.5,-10,3.0,-9,3.2,-8,3.3],
    [1.5,6.0,2,9.0,2.5,12.0,3,15.0,3.3,17.0],
    [2,9.0,3,12.0,4,15.0,4.5,16.5],
    [-1.5,1.2,-0.5,2.2,0.5,3.8,1.5,6.2,2.5,9.2,3.2,11.5],
    [0.8,5.0,1.5,8.0,2.2,11.5,2.8,14.5],
    [-0.5,3.0,0.3,5.5,1.0,8.5,1.7,12.0,2.2,15.5],
    [2.5,4.5,3.5,6.0,4.5,8.0,5.5,10.0,6.5,11.5],
    [-4,1.5,-3,1.8,-2,2.2,-1,2.5,0,2.8],
    [-6,2.5,-5,2.6,-4,3.0,-3,3.4],
    [5,11.0,5.8,13.0,6.5,14.8,7.2,16.7],
    [-2,1.5,-1,2.2,0,3.2,1,5.0,2,7.5,3,10.5,4,13.5],
    [-1.5,1.8,-0.5,2.8,0.5,4.5,1.5,7.0,2.5,10.0,3.5,13.0,4.5,15.5],
    [-1,2.5,0,4.0,1,6.5,2,10.0,3,13.5,3.5,15.5],
    [-0.5,1.5,0.5,3.0,1.5,5.5,2.5,8.5,3.5,11.5,4.5,14.5],
    [0,2.0,1,4.0,2,6.5,3,9.5,4,12.5,5,15.0],
    [0.5,3.0,1.5,5.0,2.5,7.5,3.5,10.0,4.5,12.5,5.5,14.5],
    [1,3.5,2,5.5,3,8.0,4,10.5,5,13.0,6,15.0],
    [-2.5,2.0,-1.5,2.5,-0.5,3.5,0.5,5.0,1.5,7.5,2.5,10.5],
    [-3,1.5,-2,1.8,-1,2.3,0,3.0,1,4.0,2,5.5],
    [-1,1.0,0,2.0,1,3.5,2,5.5,3,7.5,4,9.5],
    [0.5,6.0,1.2,9.0,1.8,12.0,2.4,15.0,2.8,17.5],
    [2,7.0,3,9.5,4,12.0,5,14.5,5.8,16.5],
    [3,7.0,4,9.0,5,11.0,6,12.5,7,14.0],
    [-4,1.2,-3,1.5,-2,1.7,-1,2.0,0,2.5],
    [-6,1.5,-5,1.6,-4,1.8,-3,2.0,-2,2.4],
    [-2,0.6,-1.5,0.5,-1,0.8,-0.5,1.2],
    [-1.8,2.2,-0.8,3.0,0.2,4.2,1.2,6.0,2.2,8.5,3.2,11.5],
    [-0.3,2.6,0.7,4.6,1.7,7.5,2.7,11.0,3.7,14.5],
    [0.8,3.5,1.8,6.0,2.8,9.0,3.8,12.0,4.8,14.5],
    [1.8,5.0,2.8,7.5,3.8,10.0,4.8,12.5,5.6,14.0],
    [-1.2,1.6,-0.2,2.6,0.8,4.0,1.8,5.8,2.8,8.0],
    [0.2,4.5,0.9,7.0,1.6,10.0,2.3,13.0,2.9,16.0],
    [2.5,5.5,3.5,7.5,4.5,9.5,5.5,11.5,6.5,13.0],
    [-7,2.2,-6,2.4,-5,2.4,-4,2.7,-3,2.9],
]
CDR_DEM = [
    [0,3.0,0.5,7.0,1,11.0,1.5,15.0,1.8,18.0],
    [0.2,4.0,0.5,9.0,0.8,13.0,1.1,17.5],
    [0.5,3.5,1,8.0,1.5,12.0,2,15.5],
    [0.3,5.0,0.6,9.0,0.9,15.6],
    [1,4.0,1.5,7.0,2,10.5,2.5,13.5,3,16.0],
    [1.2,5.0,1.8,8.5,2.3,12.0,2.8,15.0],
    [0.8,3.0,1.3,6.0,1.8,9.0,2.3,12.0],
    [1.5,4.0,2,6.5,2.5,9.0,3,11.5,3.5,13.5],
    [2,4.5,2.5,6.5,3,8.5,3.5,10.5],
    [0,2.0,0.4,5.0,0.8,8.0,1.2,11.0],
    [2.5,5.0,3,7.0,3.5,9.0,4,11.0],
    [6.3,6.0,6.8,6.0,None,None,7.3,6.0,8.0,6.0,None,None,8.6,6.0,9.7,6.0],
    [6.3,5.6,7.0,6.3,7.6,6.6,8.5,6.8,9.5,6.8],
    [6.8,7.0,7.3,6.0],
    [8.8,3.9,9.3,4.0,10,4.2],
    [9.2,10.0,10,10.8],
    [7.0,8.9,8.5,10.2],
    [5,4.5,6,4.8,7.3,5.2],
    [3.2,3.5,5,3.5],
    [6.8,3.5,7.2,3.5],
    [1.5,3.0,3.4,2.5],
    [-10,3.0,-8.1,3.0],
    [-11,1.8,-9.9,1.8],
    [0.5,2.5,1.5,4.5,2.5,6.5,3.5,8.0],
    [1,2.0,2,3.5,3,5.0,4,6.0],
    [2,3.0,3,4.5,4,6.0,5,7.5],
    [3,3.5,4,4.5,5,5.5],
    [3.5,5.0,4.5,6.5,5.5,7.5],
    [4,7.0,5,8.5,6,9.5],
    [-0.5,1.5,0,2.5,0.5,4.0],
    [0.1,3.5,0.3,7.0,0.5,11.0,0.7,14.0],
    [0.6,4.5,0.9,8.0,1.2,12.0,1.5,17.5],
    [1.0,5.5,1.4,9.5,1.8,13.5,2.1,17.5],
    [-0.3,2.5,0.1,5.5,0.4,9.0],
    [2.8,6.0,3.2,8.0,3.6,10.5,4,13.0],
    [0.4,3.0,0.8,6.5,1.2,10.0,1.6,13.5,2.0,16.5],
    [0.7,2.5,1.1,5.0,1.5,7.5,1.9,10.0,2.3,12.5],
    [1.3,3.5,1.8,6.0,2.3,8.5,2.8,11.0,3.2,13.0],
    [0.2,2.8,0.6,5.5,1.0,9.5,1.3,13.0,1.6,16.0],
    [5.5,6.0,6.3,7.5,7,8.5],
    [1.8,5.0,2.2,7.5,2.6,10.0,3.0,12.5,3.3,14.0],
    [0.1,2.5,0.4,6.0,0.7,10.0,1.0,14.0,1.2,17.5],
    [0.3,3.5,0.7,7.5,1.1,11.5,1.5,15.5,1.7,17.5],
    [0.5,3.0,0.9,6.0,1.3,9.5,1.7,13.0,2.1,16.0],
    [0.8,4.0,1.2,7.0,1.6,10.5,2.0,14.0,2.4,17.0],
    [1.1,3.5,1.5,6.0,1.9,9.0,2.3,12.0,2.7,14.5],
    [1.4,5.5,1.8,8.0,2.2,10.5,2.6,13.0,3.0,15.5],
    [-0.2,2.0,0.2,4.5,0.6,7.5,1.0,10.5],
    [0.0,3.8,0.3,8.0,0.6,12.0,0.9,16.0],
    [2.2,5.5,2.7,8.0,3.2,10.5,3.7,12.5],
    [1.6,3.0,2.1,5.0,2.6,7.0,3.1,9.0],
    [0.3,2.2,0.7,5.0,1.1,8.0,1.5,11.0,1.9,14.0],
    [0.9,3.2,1.3,6.0,1.7,9.0,2.1,12.0,2.5,15.0],
    [1.7,4.0,2.1,6.5,2.5,9.0,2.9,11.5,3.3,13.5],
    [-0.1,3.0,0.2,6.5,0.5,10.0,0.8,13.5,1.0,16.5],
    [2.0,3.5,2.6,5.5,3.2,7.5,3.8,9.5],
]
CDR_FIT_T = [-15, -10, -8, -7, -6, -5, -4, -3, -2, -1, 0,
             1, 2, 3, 4, 5, 6, 7, 8, 9, 10]
CDR_FIT_Y = [0.0, 0.0, 0.02, 0.08, 0.2, 0.4, 0.7, 1.15, 1.8, 2.6, 3.5,
             4.8, 6.1, 7.4, 8.6, 9.6, 10.6, 11.5, 12.3, 13.0, 13.6]

Y_RANGES = [[-4, 12], [-5, 35], [-5, 20]]
Y_TICKS = [list(range(-4, 13, 2)), list(range(-5, 36, 5)), list(range(-5, 21, 5))]

PANELS = [
    (LEARN_SMCI, LEARN_PMCI, LEARN_DEM, LEARN_FIT_T, LEARN_FIT_Y),
    (MMSE_SMCI, MMSE_PMCI, MMSE_DEM, MMSE_FIT_T, MMSE_FIT_Y),
    (CDR_SMCI, CDR_PMCI, CDR_DEM, CDR_FIT_T, CDR_FIT_Y),
]

# ---------------- styling ----------------
W, H = 1099, 641
COLORS = ["#00ff00", "#0000ff", "#ff0000"]
X_DOM_PX = [(49, 335), (426.7, 712.7), (804, 1090.7)]
Y_TOP_PX, Y_BOT_PX = 32, 594
LEG_RIGHT_PX = [326, 703, 1082]
LEG_TOP_PX, LEG_BOT_PX = 42, 87
LEG_ROWS_PX = [50.3, 64.5, 79.0]
YLAB_X_PX = [18, 396, 773]
AX_COL = "#262626"
FONT = "Liberation Sans, Arial, Helvetica, sans-serif"


def flatten(trajs):
    xs, ys = [], []
    for t in trajs:
        xs += list(t[0::2]) + [None]
        ys += list(t[1::2]) + [None]
    return xs, ys


def px_x(v):
    return v / W


def px_y(v):
    return 1 - v / H


fig = go.Figure()
annotations = []
shapes = []
layout = {}
for i, (sm, pm, dm, ft, fy) in enumerate(PANELS):
    n = "" if i == 0 else str(i + 1)
    for g, (trajs, col) in enumerate(zip((sm, pm, dm), COLORS)):
        xs, ys = flatten(trajs)
        fig.add_trace(go.Scatter(
            x=xs, y=ys, mode="lines", name=GROUPS[g],
            line=dict(color=col, width=1), connectgaps=False, showlegend=False,
            xaxis="x" + n, yaxis="y" + n, hoverinfo="skip"))
    fig.add_trace(go.Scatter(
        x=ft, y=fy, mode="lines", line=dict(color="black", width=6, shape="spline", smoothing=0.6),
        showlegend=False, xaxis="x" + n, yaxis="y" + n, hoverinfo="skip"))

    x0, x1 = X_DOM_PX[i]
    common = dict(
        showline=True, linecolor=AX_COL, linewidth=1, mirror=False,
        ticks="inside", ticklen=5, tickcolor=AX_COL,
        showgrid=True, gridcolor="#e3e3e3", gridwidth=1, zeroline=False,
        tickfont=dict(family=FONT, size=12, color=AX_COL))
    layout["xaxis" + n] = dict(
        domain=[x0 / W, x1 / W], range=[-15, 10], anchor="y" + n,
        tickvals=TICKS_X, ticktext=[str(v) for v in TICKS_X], **common)
    layout["yaxis" + n] = dict(
        domain=[1 - Y_BOT_PX / H, 1 - Y_TOP_PX / H], range=Y_RANGES[i], anchor="x" + n,
        tickvals=Y_TICKS[i], ticktext=[str(v) for v in Y_TICKS[i]], **common)

    # legend box drawn by hand (MATLAB style)
    R = LEG_RIGHT_PX[i]
    shapes.append(dict(type="rect", xref="paper", yref="paper", layer="above",
                       x0=px_x(R - 90), x1=px_x(R), y0=px_y(LEG_BOT_PX), y1=px_y(LEG_TOP_PX),
                       fillcolor="white", line=dict(color=AX_COL, width=1)))
    for g, col in enumerate(COLORS):
        yy = px_y(LEG_ROWS_PX[g])
        shapes.append(dict(type="line", xref="paper", yref="paper", layer="above",
                           x0=px_x(R - 86.5), x1=px_x(R - 53), y0=yy, y1=yy,
                           line=dict(color=col, width=1)))
        annotations.append(dict(text=GROUPS[g], x=px_x(R - 49.5), y=yy, xref="paper", yref="paper",
                                xanchor="left", yanchor="middle", showarrow=False,
                                font=dict(family=FONT, size=10, color="black")))

    cx = (x0 + x1) / 2 / W
    annotations.append(dict(
        text="<b>" + PANEL_TITLES[i] + "</b>", x=cx, y=px_y(18), xref="paper", yref="paper",
        xanchor="center", yanchor="middle", showarrow=False,
        font=dict(family=FONT, size=18, color="black")))
    annotations.append(dict(
        text="progression time [years]", x=cx, y=px_y(628), xref="paper", yref="paper",
        xanchor="center", yanchor="middle", showarrow=False,
        font=dict(family=FONT, size=15, color=AX_COL)))
    annotations.append(dict(
        text=Y_LABELS[i], x=px_x(YLAB_X_PX[i]), y=px_y((Y_TOP_PX + Y_BOT_PX) / 2),
        xref="paper", yref="paper", xanchor="center", yanchor="middle",
        textangle=-90, showarrow=False,
        font=dict(family=FONT, size=15, color=AX_COL)))

fig.update_layout(
    width=W, height=H, margin=dict(l=0, r=0, t=0, b=0),
    paper_bgcolor="white", plot_bgcolor="white", showlegend=False,
    annotations=annotations, shapes=shapes, **layout)

fig.write_html("out.html")
